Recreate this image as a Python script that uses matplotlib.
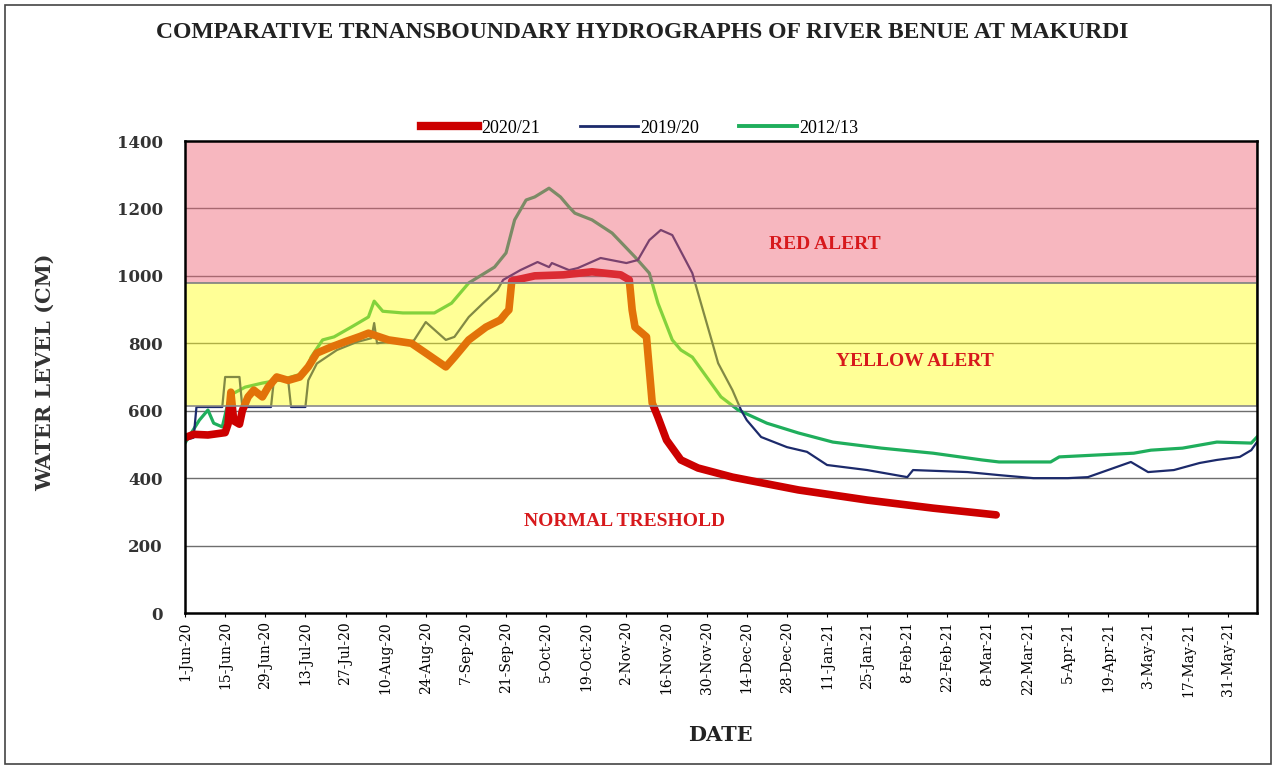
import matplotlib
matplotlib.use('Agg')
import matplotlib.pyplot as plt
import pandas as pd
from matplotlib.patches import Rectangle
from matplotlib.lines import Line2D

# ---------------- data (day offsets from 1-Jun-2020, water level in cm) ----------------
START = pd.Timestamp('2020-06-01')

days_2020 = [0, 3, 8, 14, 15, 16, 17, 19, 20, 22, 24, 27, 29, 32, 36, 40, 43, 46, 51, 56,
             61, 64, 71, 79, 84, 91, 94, 99, 105, 110, 112, 113, 114, 122, 132, 142, 152,
             155, 156, 157, 161, 162, 163, 165, 168, 173, 179, 191, 214, 238, 261, 283]
level_2020 = [520, 530, 528, 535, 560, 655, 570, 560, 600, 641, 661, 641, 670, 700, 690, 700,
              730, 771, 789, 805, 820, 830, 810, 800, 771, 730, 759, 810, 848, 869, 890, 899,
              985, 1000, 1003, 1012, 1003, 988, 899, 848, 819, 721, 623, 581, 513, 454, 430,
              403, 365, 335, 311, 291]

days_2019 = [0, 3, 4, 13, 14, 19, 20, 30, 31, 36, 37, 42, 43, 46, 53, 60, 65, 66, 67, 71,
             79, 80, 84, 91, 94, 99, 104, 109, 111, 117, 123, 127, 128, 134, 137, 145, 154,
             158, 162, 166, 170, 177, 180, 184, 186, 191, 194, 196, 201, 210, 217, 224, 238,
             252, 254, 273, 284, 296, 308, 315, 325, 330, 336, 345, 354, 360, 368, 372, 374]
level_2019 = [513, 520, 611, 611, 700, 700, 611, 611, 690, 690, 611, 611, 690, 740, 780, 804,
              815, 860, 800, 805, 805, 810, 863, 810, 819, 878, 919, 958, 988, 1017, 1041,
              1026, 1038, 1017, 1023, 1053, 1038, 1047, 1106, 1136, 1121, 1008, 919, 801, 741,
              661, 602, 572, 522, 492, 478, 439, 424, 403, 424, 418, 409, 400, 400, 403, 433,
              448, 418, 424, 445, 454, 463, 483, 507]

days_2012 = [0, 5, 8, 10, 13, 15, 17, 21, 27, 33, 37, 42, 44, 48, 52, 58, 64, 66, 69, 76, 87,
             93, 99, 108, 112, 115, 119, 122, 127, 131, 134, 136, 142, 149, 157, 162, 165,
             170, 173, 177, 182, 187, 193, 203, 214, 226, 243, 261, 278, 284, 302, 305, 319,
             331, 337, 348, 360, 372, 374]
level_2012 = [504, 572, 602, 563, 552, 623, 652, 670, 682, 691, 700, 712, 759, 810, 819, 848,
              878, 925, 895, 890, 890, 919, 979, 1026, 1068, 1166, 1225, 1234, 1260, 1234,
              1204, 1186, 1166, 1127, 1056, 1008, 919, 810, 780, 759, 700, 641, 602, 563, 534,
              507, 489, 474, 454, 448, 448, 463, 469, 474, 483, 489, 507, 504, 522]

series_labels = ['2020/21', '2019/20', '2012/13']
y_ticks = [0, 200, 400, 600, 800, 1000, 1200, 1400]
red_alert = (980, 1400)
yellow_alert = (615, 980)
tick_dates = pd.date_range('2020-06-01', '2021-05-31', freq='14D')
x_end = pd.Timestamp('2021-06-10')

# ---------------- figure ----------------
fig = plt.figure(figsize=(12.76, 7.69), dpi=100)
ax = fig.add_axes([185 / 1276, 1 - 613 / 769, (1257 - 185) / 1276, (613 - 141) / 769])

def to_dates(days):
    return START + pd.to_timedelta(days, unit='D')

ax.plot(to_dates(days_2012), level_2012, color='#1fae5c', lw=2.3, zorder=2)
ax.plot(to_dates(days_2019), level_2019, color='#1c2a6b', lw=1.6, zorder=2)
ax.plot(to_dates(days_2020), level_2020, color='#cc0000', lw=5.5, zorder=3,
        solid_capstyle='round', solid_joinstyle='round')

# gridlines
for yv in y_ticks[1:-1]:
    ax.axhline(yv, color='#6e6e6e', lw=1.0, zorder=1)

# alert bands (semi-transparent, drawn over the lines)
ax.axhspan(*red_alert, facecolor=(239 / 255, 97 / 255, 115 / 255, 0.45),
           edgecolor='#8a8a8a', lw=1.2, zorder=4)
ax.axhspan(*yellow_alert, facecolor=(1.0, 1.0, 22 / 255, 0.45),
           edgecolor='#8a8a8a', lw=1.2, zorder=4)

ax.set_xlim(START, x_end)
ax.set_ylim(0, 1400)
ax.set_yticks(y_ticks)
ax.set_yticklabels([str(v) for v in y_ticks], fontfamily='DejaVu Serif',
                   fontweight='bold', fontsize=12, color='#333333')
ax.set_xticks(tick_dates)
ax.set_xticklabels([f"{d.day}-{d.strftime('%b')}-{d.strftime('%y')}" for d in tick_dates],
                   rotation=90, fontfamily='DejaVu Serif', fontsize=10)
ax.tick_params(axis='y', length=0, pad=16)
ax.tick_params(axis='x', length=3, pad=3)

for s in ax.spines.values():
    s.set_color('black')
    s.set_linewidth(1.8)
    s.set_zorder(6)

# annotations
txt_kw = dict(transform=ax.transAxes, ha='center', va='center', color='#d7191c',
              fontfamily='Liberation Serif', fontweight='bold', fontsize=14, zorder=7)
ax.text(0.597, 0.78, 'RED ALERT', **txt_kw)
ax.text(0.681, 0.532, 'YELLOW ALERT', **txt_kw)
ax.text(0.410, 0.193, 'NORMAL TRESHOLD', **txt_kw)

# labels and title
fig.text(642 / 1276, 1 - 32 / 769, 'COMPARATIVE TRNANSBOUNDARY HYDROGRAPHS OF RIVER BENUE AT MAKURDI',
         ha='center', va='center', fontfamily='Liberation Serif', fontweight='bold',
         fontsize=17, color='#222222')
fig.text(45 / 1276, 1 - 372 / 769, 'WATER LEVEL (CM)', rotation=90, ha='center', va='center',
         fontfamily='DejaVu Serif', fontweight='bold', fontsize=15, color='#333333')
fig.text(720 / 1276, 1 - 735 / 769, 'DATE', ha='center', va='center',
         fontfamily='DejaVu Serif', fontweight='bold', fontsize=15, color='#222222')

# legend
handles = [Line2D([], [], color='#cc0000', lw=6),
           Line2D([], [], color='#1c2a6b', lw=2),
           Line2D([], [], color='#1fae5c', lw=2.8)]
ax.legend(handles, series_labels, ncol=3, loc='lower center', bbox_to_anchor=(0.424, 0.99),
          frameon=False, prop={'family': 'Liberation Serif', 'size': 13},
          handlelength=3.2, handletextpad=0.15, columnspacing=2.2, borderaxespad=0.1)

# outer border
fig.patches.append(Rectangle((0.004, 0.007), 0.992, 0.986, transform=fig.transFigure,
                             fill=False, edgecolor='#444444', lw=1.2))

fig.savefig('out.png', dpi=100)
